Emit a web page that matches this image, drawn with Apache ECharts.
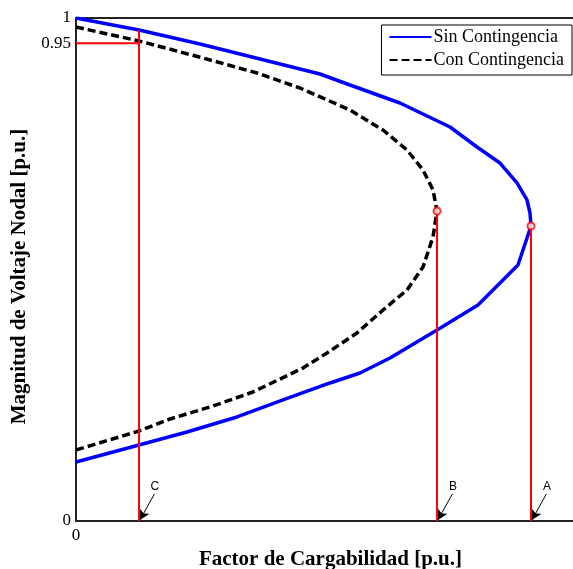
<!DOCTYPE html>
<html>
<head>
<meta charset="utf-8">
<script src="https://cdn.jsdelivr.net/npm/echarts@6/dist/echarts.min.js"></script>
<style>
  html, body { margin: 0; padding: 0; background: #fff; }
</style>
</head>
<body>
<div id="chart" style="width: 573px; height: 569px;"></div>
<script>
  // curva P-V sin contingencia [factor de carga, voltaje]
  const sinContingencia = [
    [0, 1.000], [0.1268, 0.9761], [0.2495, 0.9483], [0.3702, 0.9185], [0.4909, 0.8887],
    [0.5513, 0.8668], [0.6519, 0.8310], [0.7525, 0.7833], [0.8068, 0.7435], [0.8531, 0.7117],
    [0.8873, 0.6720], [0.9074, 0.6382], [0.9135, 0.6123], [0.9155, 0.5865],
    [0.8893, 0.5089], [0.8089, 0.4294], [0.7264, 0.3797], [0.6318, 0.3241], [0.5714, 0.2942],
    [0.5111, 0.2744], [0.4165, 0.2406], [0.3239, 0.2068], [0.2233, 0.1769], [0.1268, 0.1511],
    [0, 0.1173]
  ]
  // curva P-V con contingencia
  const conContingencia = [
    [0, 0.9821], [0.1268, 0.9543], [0.2555, 0.9205], [0.3642, 0.8907], [0.4507, 0.8608],
    [0.5513, 0.8171], [0.6177, 0.7773], [0.6660, 0.7376], [0.6982, 0.6978], [0.7183, 0.6581],
    [0.7264, 0.6163],
    [0.7183, 0.5646], [0.6982, 0.5050], [0.6660, 0.4592], [0.6177, 0.4195], [0.5654, 0.3738],
    [0.5050, 0.3340], [0.4567, 0.3042], [0.3561, 0.2565], [0.2757, 0.2286], [0.1891, 0.2028],
    [0.1268, 0.1789], [0, 0.1412]
  ]
  // puntos marcados: A, B (narices) y C (V = 0.95)
  const puntosLabels = ['A', 'B', 'C']
  const puntosX = [0.9155, 0.7264, 0.1268]
  const puntosY = [0.5865, 0.6163, 0.9761]
  const voltajeLimite = 0.95
  const yTicks = [0, 0.95, 1]
  const xTicks = [0]

  const serif = 'Liberation Serif'
  const myChart = echarts.init(document.getElementById('chart'))

  // lineas rojas verticales
  const redLines = []
  puntosX.forEach(function (x, i) {
    redLines.push([x, 0], [x, puntosY[i]], [null, null])
  })
  redLines.push([0, voltajeLimite], [puntosX[2], voltajeLimite])

  // flechas con etiqueta
  const arrows = puntosX.map(function (x, i) {
    return [
      { coord: [x + 0.031, 0.054], name: puntosLabels[i] },
      { coord: [x + 0.002, 0.002] }
    ]
  })

  const option = {
    animation: false,
    backgroundColor: '#fff',
    grid: { left: 76, right: 0, top: 18, bottom: 48, outerBoundsMode: 'none' },
    legend: {
      right: 1,
      top: 25,
      orient: 'vertical',
      align: 'left',
      borderColor: '#000',
      borderWidth: 1,
      padding: [3, 8, 6, 7],
      itemWidth: 42,
      itemHeight: 14,
      itemGap: 5,
      itemStyle: { opacity: 0 },
      textStyle: { fontFamily: serif, fontSize: 18, color: '#000', padding: [0, 0, 0, -3] },
      data: ['Sin Contingencia', 'Con Contingencia']
    },
    xAxis: [{
      type: 'value',
      min: 0,
      max: 1,
      name: 'Factor de Cargabilidad [p.u.]',
      nameLocation: 'middle',
      nameGap: 26,
      nameTextStyle: { fontFamily: serif, fontSize: 21, fontWeight: 'bold', color: '#000', padding: [0, 0, 0, 12] },
      splitLine: { show: false },
      axisTick: { show: false },
      axisLine: { lineStyle: { color: '#222', width: 2 } },
      axisLabel: { customValues: xTicks, fontFamily: serif, fontSize: 17, color: '#000', margin: 6 }
    }, {
      type: 'value',
      position: 'top',
      min: 0,
      max: 1,
      splitLine: { show: false },
      axisTick: { show: false },
      axisLabel: { show: false },
      axisLine: { lineStyle: { color: '#222', width: 2 } }
    }],
    yAxis: {
      type: 'value',
      min: 0,
      max: 1,
      name: 'Magnitud de Voltaje Nodal [p.u.]',
      nameLocation: 'middle',
      nameRotate: 90,
      nameGap: 42,
      nameTextStyle: { fontFamily: serif, fontSize: 21, fontWeight: 'bold', color: '#000', padding: [0, 14, 0, 0] },
      splitLine: { show: false },
      axisTick: { show: false },
      axisLine: { show: true, lineStyle: { color: '#222', width: 2 } },
      axisLabel: { customValues: yTicks, fontFamily: serif, fontSize: 17, color: '#000', margin: 5 }
    },
    series: [
      {
        name: 'Sin Contingencia',
        type: 'line',
        data: sinContingencia,
        showSymbol: false,
        symbol: 'none',
        color: '#0000ff',
        lineStyle: { color: '#0000ff', width: 3.5 },
        z: 3
      },
      {
        name: 'Con Contingencia',
        type: 'line',
        data: conContingencia,
        showSymbol: false,
        symbol: 'none',
        color: '#000',
        lineStyle: { color: '#000', width: 3.5, type: [8, 4] },
        z: 4
      },
      {
        name: 'lineas',
        type: 'line',
        data: redLines,
        showSymbol: false,
        connectNulls: false,
        lineStyle: { color: '#ff0000', width: 2 },
        z: 5,
        markLine: {
          silent: true,
          symbol: ['none', 'arrow'],
          symbolSize: [8, 10],
          lineStyle: { color: '#000', width: 1, type: 'solid' },
          label: {
            show: true,
            position: 'start',
            formatter: '{b}',
            fontFamily: 'Liberation Sans',
            fontSize: 12,
            color: '#000',
            distance: 1
          },
          data: arrows
        }
      },
      {
        name: 'puntos',
        type: 'scatter',
        data: puntosX.slice(0, 2).map(function (x, i) { return [x, puntosY[i]] }),
        symbol: 'emptyCircle',
        symbolSize: 7,
        itemStyle: { color: '#ff0000', borderColor: '#ff0000', borderWidth: 1 },
        z: 6
      }
    ]
  }

  myChart.setOption(option)
</script>
</body>
</html>
